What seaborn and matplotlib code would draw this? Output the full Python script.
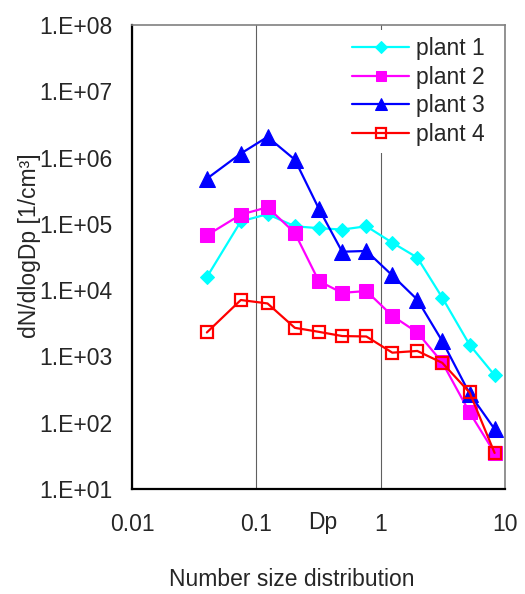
import numpy as np
import pandas as pd
import seaborn as sns
import matplotlib.pyplot as plt
from matplotlib.ticker import LogLocator, FuncFormatter, FixedLocator, NullFormatter

# particle diameter Dp (um)
dp = [0.04, 0.075, 0.123, 0.204, 0.318, 0.49, 0.767, 1.24, 1.97, 3.13, 5.19, 8.25]

# dN/dlogDp per plant [1/cm3]
plant1 = [1.57e4, 1.09e5, 1.4e5, 9.2e4, 8.6e4, 8.2e4, 9.2e4, 5.2e4, 3.1e4, 7.7e3, 1.5e3, 520]
plant2 = [6.7e4, 1.38e5, 1.78e5, 7.3e4, 1.37e4, 9.1e3, 9.7e3, 4.1e3, 2.3e3, 810, 143, 35]
plant3 = [4.8e5, 1.15e6, 2.05e6, 9.3e5, 1.7e5, 3.8e4, 3.9e4, 1.67e4, 7.2e3, 1.7e3, 275, 80]
plant4 = [2.3e3, 7.1e3, 6.3e3, 2.7e3, 2.35e3, 2.03e3, 2.0e3, 1.14e3, 1.21e3, 800, 286, 35]

names = ['plant 1', 'plant 2', 'plant 3', 'plant 4']
series = [plant1, plant2, plant3, plant4]

df = pd.DataFrame({
    'Dp': dp * 4,
    'dN': plant1 + plant2 + plant3 + plant4,
    'Plant': [n for n in names for _ in dp],
})

sns.set_theme(style="white")
plt.rcParams['font.family'] = ['Liberation Sans', 'DejaVu Sans']
plt.rcParams['font.size'] = 16.5

fig = plt.figure(figsize=(5.25, 5.94), dpi=100)
ax = fig.add_axes([132/525, 105/594, 373/525, 464/594])

# marker style per plant (Excel look)
styles = {
    'plant 1': dict(color='#00FFFF', marker='D', markersize=7.5, markerfacecolor='#00FFFF', markeredgecolor='#00FFFF'),
    'plant 2': dict(color='#FF00FF', marker='s', markersize=10, markerfacecolor='#FF00FF', markeredgecolor='#FF00FF'),
    'plant 3': dict(color='#0000FF', marker='^', markersize=11, markerfacecolor='#0000FF', markeredgecolor='#0000FF'),
    'plant 4': dict(color='#FF0000', marker='s', markersize=9, markerfacecolor='none', markeredgecolor='#FF0000', markeredgewidth=1.6),
}

for name in names:
    sub = df[df['Plant'] == name]
    sns.lineplot(data=sub, x='Dp', y='dN', ax=ax, label=name, linewidth=1.6,
                 estimator=None, sort=False, **styles[name])

ax.set_xscale('log')
ax.set_yscale('log')
ax.set_xlim(0.01, 10)
ax.set_ylim(10, 1e8)

ax.xaxis.set_major_locator(FixedLocator([0.01, 0.1, 1, 10]))
ax.xaxis.set_major_formatter(FuncFormatter(lambda v, p: '%g' % v))
ax.xaxis.set_minor_locator(LogLocator(base=10, subs=np.arange(2, 10)))
ax.xaxis.set_minor_formatter(NullFormatter())
ax.yaxis.set_major_locator(LogLocator(base=10, numticks=20))
ax.yaxis.set_major_formatter(FuncFormatter(lambda v, p: '1.E+%02d' % int(round(np.log10(v)))))
ax.yaxis.set_minor_locator(LogLocator(base=10, subs=np.arange(2, 10), numticks=20))
ax.yaxis.set_minor_formatter(NullFormatter())

ax.tick_params(axis='both', which='both', direction='in', color='black', width=1.5)
ax.tick_params(axis='both', which='major', length=7)
ax.tick_params(axis='both', which='minor', length=5)
ax.tick_params(axis='y', which='major', pad=14, labelsize=16.5)
ax.tick_params(axis='x', which='major', pad=17, labelsize=16.5)

ax.xaxis.grid(True, which='major', color='#606060', linewidth=0.8)
ax.yaxis.grid(False)

for s in ['left', 'bottom']:
    ax.spines[s].set_color('black')
    ax.spines[s].set_linewidth(1.6)
for s in ['top', 'right']:
    ax.spines[s].set_color('#808080')
    ax.spines[s].set_linewidth(1.2)

ax.set_xlabel('')
ax.set_ylabel('')

leg = ax.legend(loc='upper left', bbox_to_anchor=(345/525, 1 - 30/594),
                bbox_transform=fig.transFigure, frameon=True, fancybox=False,
                facecolor='white', edgecolor='none', framealpha=1,
                handlelength=2.5, handletextpad=0.3, labelspacing=0.25,
                borderpad=0.3, borderaxespad=0, markerscale=0.75, fontsize=16.5)

fig.text(30/525, 1 - 246/594, 'dN/dlogDp [1/cm³]', rotation=90, ha='center', va='center', fontsize=16.5)
fig.text(323/525, 1 - 523/594, 'Dp', ha='center', va='center', fontsize=16.5)
fig.text(292/525, 1 - 580/594, 'Number size distribution', ha='center', va='center', fontsize=16.5)

fig.savefig('out.png', dpi=100)
